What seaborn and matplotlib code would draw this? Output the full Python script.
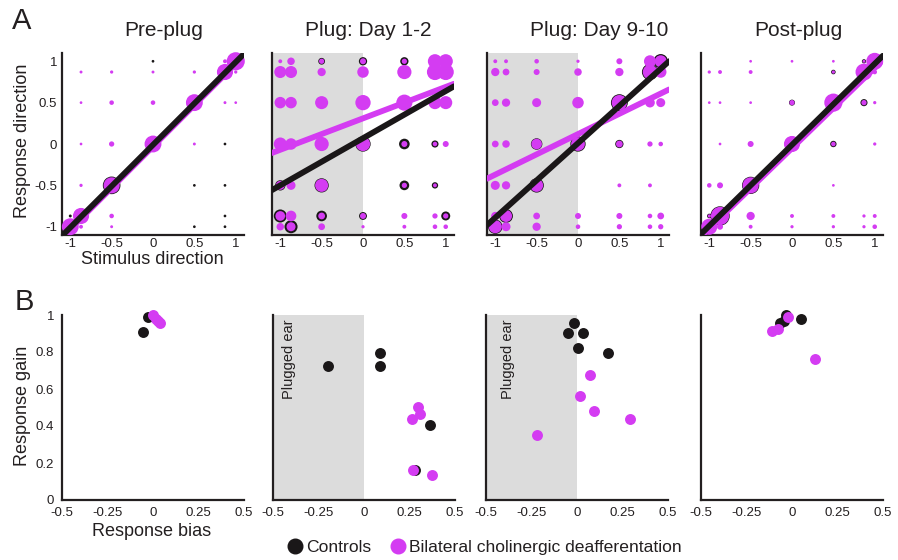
import numpy as np
import pandas as pd
import matplotlib
matplotlib.use("Agg")
import matplotlib.pyplot as plt
import seaborn as sns
from matplotlib.lines import Line2D

sns.set_theme(style="white")
plt.rcParams['font.family'] = ['Liberation Sans', 'DejaVu Sans']

MAGENTA = '#d43cf2'
BLACK = '#1a1718'
GRAY = '#dcdcdc'
AXC = '#231f20'

# ---------------- data ----------------
DIRS = [-1, -0.87, -0.5, 0, 0.5, 0.87, 1]          # stimulus directions (columns)
RESP = [1, 0.87, 0.5, 0, -0.5, -0.87, -1]          # response directions (rows)

titles = ["Pre-plug", "Plug: Day 1-2", "Plug: Day 9-10", "Post-plug"]
plugged = [False, True, True, False]

# percentage of trials for each (response row, stimulus column)
pre_ctrl = [
    [0, 0, 0, 0.4, 0, 0, 40],
    [0, 0, 0, 0, 0, 32, 0],
    [0, 0, 0, 0, 32, 0, 0],
    [0, 0, 0, 36, 0, 0.4, 0],
    [0, 0, 48, 0, 0.4, 0.4, 0],
    [0.6, 32, 0, 0, 0, 0.4, 0],
    [36, 0, 0, 0, 0.4, 0.4, 0],
]
pre_les = [
    [0, 0, 0, 0, 0, 1.6, 51],
    [0, 0.6, 0.9, 0.6, 0.9, 40, 0.9],
    [0, 0.4, 2.5, 2.5, 44, 0.6, 0.4],
    [0, 0.4, 3.6, 44, 0.6, 0, 0],
    [0, 0.9, 40, 0, 0, 0, 0],
    [0, 40, 2.5, 0, 0, 0, 0],
    [44, 1.6, 0.6, 0, 0, 0, 0],
]
d12_ctrl = [
    [0, 0, 6.4, 10, 10, 0, 0],
    [0, 0, 0, 0, 0, 0, 0],
    [0, 0, 0, 0, 0, 0, 0],
    [0, 0, 0, 36, 17, 7.2, 0.9],
    [16, 0, 31, 0, 14, 5.6, 0],
    [26, 0, 17, 9, 0, 0, 12],
    [0, 26, 0, 0, 0, 0, 0],
]
d12_les = [
    [1.6, 8.1, 3.6, 4.9, 3.6, 31, 31],
    [22, 22, 10, 20, 31, 40, 40],
    [20, 20, 26, 36, 40, 26, 26],
    [26, 20, 31, 31, 4.9, 2.5, 4.9],
    [12, 12, 26, 0, 3.6, 1.6, 0],
    [14, 17, 6.4, 4.9, 4.9, 3.6, 3.6],
    [8.1, 12, 6.4, 0.9, 1.6, 2.5, 2.5],
]
d910_ctrl = [
    [0, 0, 0, 0, 0, 0, 32],
    [0, 0, 0, 0, 0, 40, 0],
    [0, 0, 0, 0, 44, 0, 0],
    [0, 0, 20, 36, 10, 0, 0.6],
    [0, 0, 32, 0, 0, 0, 0],
    [0, 29, 0, 0, 0, 0, 0],
    [32, 0, 0, 0, 0, 0, 0],
]
d910_les = [
    [1.6, 1.6, 2.5, 0.9, 4.9, 22, 22],
    [10, 6.4, 4.9, 8.1, 10, 32, 20],
    [6.4, 10, 12, 20, 36, 14, 12],
    [6.4, 8.1, 17, 29, 6.4, 3.6, 2.5],
    [12, 10, 26, 0, 1.6, 1.6, 0],
    [10, 22, 6.4, 4.9, 4.9, 2.5, 6.4],
    [26, 12, 10, 2.5, 3.6, 2.5, 3.6],
]
post_ctrl = [
    [0, 0, 0, 0, 0, 2.0, 36],
    [0, 0, 0, 0, 2.5, 32, 0],
    [0, 0, 0, 4.9, 36, 7.2, 0],
    [0, 0, 0, 32, 5.6, 0, 0],
    [0, 0, 46, 0, 0, 0, 0],
    [2.5, 58, 0, 0, 0, 0, 0],
    [32, 0, 0, 0, 0, 0, 0],
]
post_les = [
    [0, 0, 0.4, 0.4, 0.4, 0.6, 44],
    [0.9, 1.6, 1.6, 0, 0.9, 44, 2.5],
    [0.4, 0.4, 0.4, 3.6, 51, 3.6, 0.9],
    [0, 0.4, 4.9, 40, 2.5, 0, 0.9],
    [2.5, 4.9, 40, 0, 0.4, 0, 0],
    [0.9, 51, 10, 1.6, 1.6, 0.9, 1.6],
    [40, 4.9, 1.6, 0.9, 0.9, 0.9, 2.5],
]
ctrl_mats = [pre_ctrl, d12_ctrl, d910_ctrl, post_ctrl]
les_mats = [pre_les, d12_les, d910_les, post_les]

# linear fits (slope, intercept)
ctrl_slope = [1.0, 0.57, 0.90, 0.98]
ctrl_icpt = [-0.01, 0.07, 0.01, -0.01]
les_slope = [1.0, 0.38, 0.49, 0.97]
les_icpt = [-0.03, 0.31, 0.12, -0.05]

# response bias / gain per animal
ctrl_bias = [[-0.03, -0.055], [-0.20, 0.09, 0.086, 0.365, 0.28],
             [-0.015, -0.048, 0.035, 0.004, 0.173], [-0.031, -0.064, -0.042, 0.051]]
ctrl_gain = [[0.99, 0.91], [0.727, 0.795, 0.722, 0.404, 0.164],
             [0.955, 0.904, 0.904, 0.819, 0.792], [1.0, 0.959, 0.968, 0.977]]
les_bias = [[0.0, 0.015, 0.03, 0.04], [0.297, 0.306, 0.264, 0.27, 0.374],
            [0.074, 0.018, 0.096, 0.29, -0.218], [-0.024, -0.11, -0.079, 0.129]]
les_gain = [[1.0, 0.98, 0.965, 0.958], [0.504, 0.467, 0.436, 0.164, 0.136],
            [0.678, 0.56, 0.483, 0.438, 0.353], [0.989, 0.914, 0.923, 0.764]]

top_ticks = [-1, -0.5, 0, 0.5, 1]
top_ticklabels = ["-1", "-0.5", "0", "0.5", "1"]
bx_ticks = [-0.5, -0.25, 0, 0.25, 0.5]
bx_ticklabels = ["-0.5", "-0.25", "0", "0.25", "0.5"]
by_ticks = [0, 0.2, 0.4, 0.6, 0.8, 1]
by_ticklabels = ["0", "0.2", "0.4", "0.6", "0.8", "1"]

# ---------------- figure ----------------
W, H = 898, 560
fig = plt.figure(figsize=(W / 100, H / 100), dpi=100)


def box(left, top, right, bottom):
    return [left / W, 1 - bottom / H, (right - left) / W, (bottom - top) / H]


def to_long(mat):
    rows = []
    for i, r in enumerate(RESP):
        for j, s in enumerate(DIRS):
            if mat[i][j] > 0:
                rows.append((s, r, mat[i][j]))
    return pd.DataFrame(rows, columns=["stim", "resp", "pct"])


def style(ax, xpad, ypad):
    sns.despine(ax=ax)
    for sp in ["left", "bottom"]:
        ax.spines[sp].set_linewidth(1.6)
        ax.spines[sp].set_color(AXC)
    ax.tick_params(direction="in", length=4, width=1.2, color=AXC,
                   labelsize=9.5, labelcolor=AXC)
    ax.tick_params(axis="x", pad=xpad)
    ax.tick_params(axis="y", pad=ypad)
    ax.set_xlabel("")
    ax.set_ylabel("")
    ax.set_facecolor("none")


top_lefts = [62, 272, 487, 701]
bot_lefts = [62, 273, 486, 701]
SCALE = 3.3
BASE = 2.5

for k in range(4):
    ax = fig.add_axes(box(top_lefts[k], 53, top_lefts[k] + 182, 235))
    if plugged[k]:
        ax.axvspan(-1.1, 0, color=GRAY, lw=0, zorder=0)
    dc = to_long(ctrl_mats[k])
    dl = to_long(les_mats[k])
    sns.scatterplot(data=dc, x="stim", y="resp", size="pct",
                    sizes=(BASE, BASE + 100 * SCALE), size_norm=(0, 100),
                    color=BLACK, linewidth=0, legend=False,
                    ax=ax, zorder=2, clip_on=False)
    sns.scatterplot(data=dl, x="stim", y="resp", size="pct",
                    sizes=(BASE, BASE + 100 * SCALE), size_norm=(0, 100),
                    color=MAGENTA, linewidth=0, legend=False,
                    ax=ax, zorder=3, clip_on=False)
    xs = np.array([-1.1, 1.1])
    sns.lineplot(x=xs, y=les_slope[k] * xs + les_icpt[k], color=MAGENTA, lw=4.2,
                 ax=ax, zorder=4)
    sns.lineplot(x=xs, y=ctrl_slope[k] * xs + ctrl_icpt[k], color=BLACK, lw=4.2,
                 ax=ax, zorder=5)
    ax.set_xlim(-1.1, 1.1)
    ax.set_ylim(-1.1, 1.1)
    ax.set_xticks(top_ticks)
    ax.set_xticklabels(top_ticklabels)
    ax.set_yticks(top_ticks)
    if k == 0:
        ax.set_yticklabels(top_ticklabels)
    else:
        ax.set_yticklabels([])
    style(ax, 2, 3.5)

    axb = fig.add_axes(box(bot_lefts[k], 315, bot_lefts[k] + 182, 500))
    if plugged[k]:
        axb.axvspan(-0.5, 0, color=GRAY, lw=0, zorder=0)
        tx = 0.088 if k == 1 else 0.12
        axb.text(tx, 0.975, "Plugged ear", rotation=90, ha="center", va="top",
                 fontsize=10.5, color=AXC, transform=axb.transAxes)
    sns.scatterplot(x=ctrl_bias[k], y=ctrl_gain[k], color=BLACK, s=62, linewidth=0,
                    ax=axb, zorder=2, clip_on=False)
    sns.scatterplot(x=les_bias[k], y=les_gain[k], color=MAGENTA, s=62, linewidth=0,
                    ax=axb, zorder=3, clip_on=False)
    axb.set_xlim(-0.5, 0.5)
    axb.set_ylim(0, 1)
    axb.set_xticks(bx_ticks)
    axb.set_xticklabels(bx_ticklabels)
    axb.set_yticks(by_ticks)
    if k == 0:
        axb.set_yticklabels(by_ticklabels)
    else:
        axb.set_yticklabels([])
    style(axb, 5, 5.5)

# titles and labels
title_x = [164, 368, 599, 798]
for t, x in zip(titles, title_x):
    fig.text(x / W, 1 - 30 / H, t, ha="center", va="center", fontsize=15, color=AXC)

fig.text(22 / W, 1 - 21 / H, "A", ha="center", va="center", fontsize=21, color=AXC)
fig.text(24 / W, 1 - 302 / H, "B", ha="center", va="center", fontsize=21, color=AXC)
fig.text(23 / W, 1 - 141 / H, "Response direction", rotation=90, ha="center",
         va="center", fontsize=13, color=AXC)
fig.text(152 / W, 1 - 259 / H, "Stimulus direction", ha="center", va="center",
         fontsize=13, color=AXC)
fig.text(23 / W, 1 - 406 / H, "Response gain", rotation=90, ha="center",
         va="center", fontsize=13, color=AXC)
fig.text(152 / W, 1 - 532 / H, "Response bias", ha="center", va="center",
         fontsize=13, color=AXC)

handles = [Line2D([], [], marker="o", ls="", color=BLACK, markersize=10.5),
           Line2D([], [], marker="o", ls="", color=MAGENTA, markersize=10.5)]
fig.legend(handles, ["Controls", "Bilateral cholinergic deafferentation"],
           loc="center", bbox_to_anchor=(484 / W, 1 - 547.5 / H), ncol=2,
           frameon=False, fontsize=12.6, handletextpad=0.15, columnspacing=1.0,
           handlelength=1.0, borderpad=0, labelcolor=AXC)

fig.savefig("out.png", dpi=100)
